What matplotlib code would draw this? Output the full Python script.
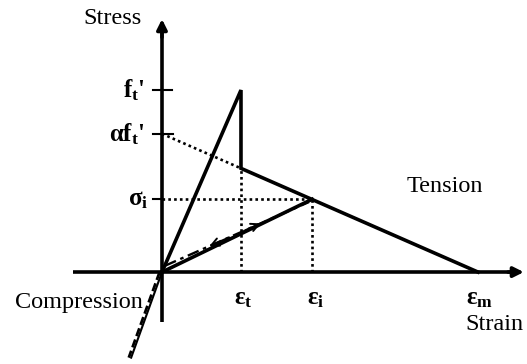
import numpy as np
import matplotlib.pyplot as plt
from matplotlib.patches import FancyArrowPatch

plt.rcParams['font.family'] = ['Liberation Serif', 'DejaVu Serif']
plt.rcParams['mathtext.fontset'] = 'custom'
plt.rcParams['mathtext.rm'] = 'Liberation Serif'
plt.rcParams['mathtext.it'] = 'Liberation Serif:italic'
plt.rcParams['mathtext.bf'] = 'Liberation Serif:bold'

# strain in units of eps_t, stress in units of f_t'
eps_t = 1.0
eps_i = 1.9
eps_m = 4.0
f_t = 1.0
alpha_ft = 0.76
sig_drop = 0.57    # stress right after the crack opens at eps_t
sig_i = 0.40

# envelope: linear up to f_t', sudden drop, then linear softening
env_strain = [0.0, eps_t, eps_t, eps_m]
env_stress = [0.0, f_t, sig_drop, 0.0]

# unloading / reloading path back to origin
unl_strain = [0.0, eps_i]
unl_stress = [0.0, sig_i]
reload_strain = [0.04, 1.86]
reload_stress = [0.035, 0.385]

# compression branch
comp_strain = [0.0, -0.39]
comp_stress = [0.0, -0.47]

# axis extents
x_lo, x_hi = -1.13, 4.58
y_lo, y_hi = -0.275, 1.39

fig = plt.figure(figsize=(5.27, 3.64), dpi=100)
ax = fig.add_axes([0, 0, 1, 1])
ax.set_xlim(-2.05, 4.62)
ax.set_ylim(-0.505, 1.495)
ax.axis('off')

lw = 2.6

# axes with arrow heads
ax.plot([x_lo, x_hi - 0.1], [0, 0], color='k', lw=lw, solid_capstyle='butt')
ax.plot([0, 0], [y_lo, y_hi - 0.05], color='k', lw=lw, solid_capstyle='butt')
ax.annotate('', xy=(x_hi, 0), xytext=(x_hi - 0.2, 0),
            arrowprops=dict(arrowstyle='-|>', color='k', lw=lw,
                            mutation_scale=15, shrinkA=0, shrinkB=0))
ax.annotate('', xy=(0, y_hi), xytext=(0, y_hi - 0.1),
            arrowprops=dict(arrowstyle='-|>', color='k', lw=lw,
                            mutation_scale=15, shrinkA=0, shrinkB=0))

# ticks on stress axis
ax.plot([-0.11, 0.13], [f_t, f_t], color='k', lw=1.5)
ax.plot([-0.11, 0.14], [alpha_ft, alpha_ft], color='k', lw=1.5)
ax.plot([-0.11, 0.0], [sig_i, sig_i], color='k', lw=1.5)

# dotted construction lines
dot = dict(color='k', lw=1.9, linestyle=(0, (1, 1.2)))
ax.plot([0, eps_t], [alpha_ft, sig_drop], **dot)
ax.plot([eps_t, eps_t], [0, sig_drop], **dot)
ax.plot([eps_i, eps_i], [0, sig_i], **dot)
ax.plot([0, eps_i], [sig_i, sig_i], **dot)

# envelope and unloading line
ax.plot(env_strain, env_stress, color='k', lw=lw, solid_joinstyle='miter')
ax.plot(unl_strain, unl_stress, color='k', lw=lw)
ax.plot(reload_strain, reload_stress, color='k', lw=1.7,
        linestyle=(0, (5, 2, 1.5, 2)))

# direction chevrons on the reload path
for s0, s1 in [(1.05, 1.25), (0.85, 0.6)]:
    t0 = np.interp(s0, reload_strain, reload_stress)
    t1 = np.interp(s1, reload_strain, reload_stress)
    ax.add_patch(FancyArrowPatch((s0, t0), (s1, t1), arrowstyle='->',
                                 mutation_scale=14, lw=1.4, color='k',
                                 shrinkA=0, shrinkB=0))

# compression branch drawn as solid + dashed pair
ax.plot(comp_strain, comp_stress, color='k', lw=1.5)
ax.plot(np.array(comp_strain) - 0.03, comp_stress, color='k', lw=2.0,
        linestyle=(0, (3, 1.3)))

# labels
word = dict(fontsize=17.5, color='k')
sym = dict(fontsize=18, color='k', fontweight='bold')
ax.text(-0.63, 1.395, 'Stress', ha='center', va='center', **word)
ax.text(3.58, 0.47, 'Tension', ha='center', va='center', **word)
ax.text(-0.24, -0.165, 'Compression', ha='right', va='center', **word)
ax.text(3.84, -0.29, 'Strain', ha='left', va='center', **word)

ax.text(-0.21, f_t, r"$\mathbf{f}_\mathbf{t}$'", ha='right', va='center', **sym)
ax.text(-0.21, alpha_ft, r"$\mathbf{\alpha f}_\mathbf{t}$'", ha='right', va='center', **sym)
ax.text(-0.17, sig_i, r"$\mathbf{\sigma}_\mathbf{i}$", ha='right', va='center', **sym)

ax.text(eps_t - 0.09, -0.143, r"$\mathbf{ε}_\mathbf{t}$", ha='left', va='center', **sym)
ax.text(eps_i - 0.07, -0.143, r"$\mathbf{ε}_\mathbf{i}$", ha='left', va='center', **sym)
ax.text(eps_m - 0.15, -0.143, r"$\mathbf{ε}_\mathbf{m}$", ha='left', va='center', **sym)

fig.savefig('out.png', dpi=100)
